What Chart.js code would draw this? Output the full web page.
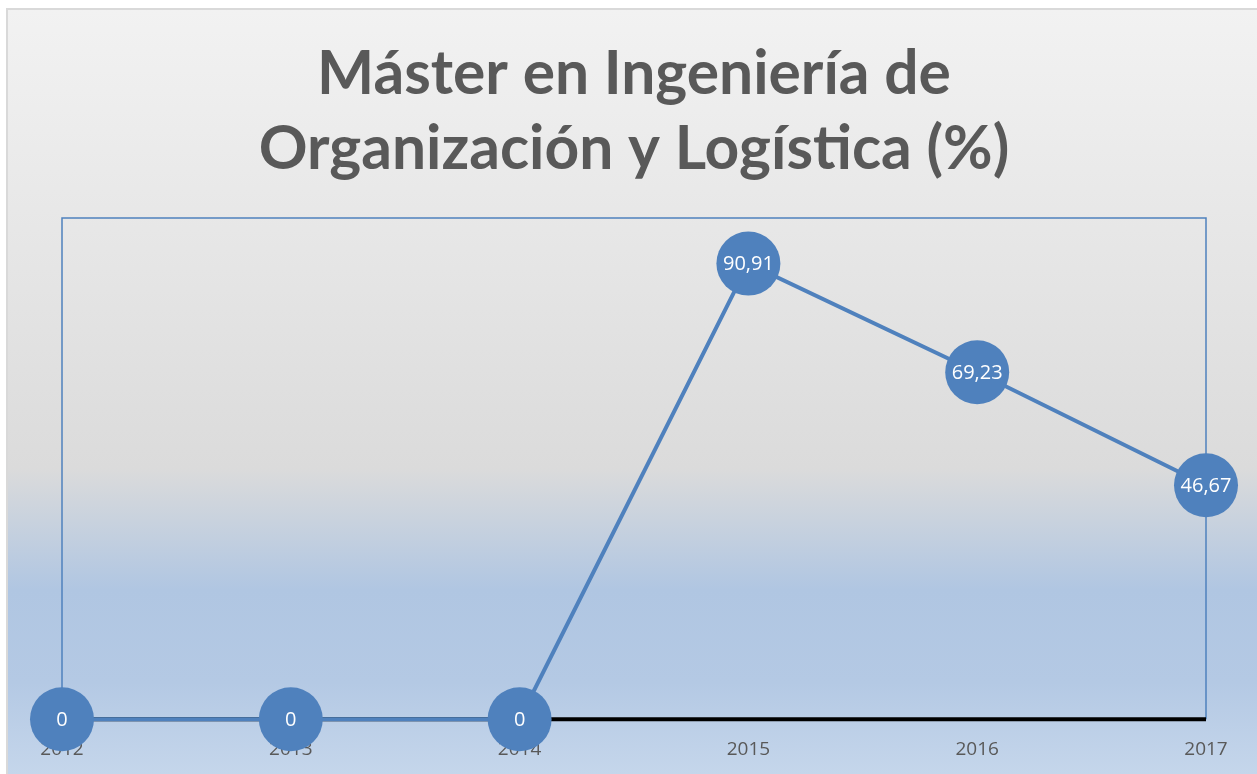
<!DOCTYPE html>
<html>
<head>
<meta charset="utf-8">
<script src="https://cdn.jsdelivr.net/npm/chart.js@4/dist/chart.umd.min.js"></script>
<style>
  html, body { margin: 0; padding: 0; background: #fff; }
  #wrap { width: 1257px; height: 774px; }
</style>
</head>
<body>
<div id="wrap"><canvas id="chart"></canvas></div>
<script>
const years = ['2012', '2013', '2014', '2015', '2016', '2017']
const percentages = [0, 0, 0, 90.91, 69.23, 46.67]
const titleLines = ['Máster en Ingeniería de', 'Organización y Logística (%)']

const blue = '#4f81bd'
const grey = '#595959'

// frame + gradient behind everything, plot border and black axis under the line
const backdrop = {
  id: 'backdrop',
  beforeDraw (chart) {
    const { ctx } = chart
    const top = 9, left = 7
    const g = ctx.createLinearGradient(0, top, 0, chart.height)
    g.addColorStop(0, '#f2f2f2')
    g.addColorStop(0.6, '#dbdbdb')
    g.addColorStop(0.76, '#b0c6e2')
    g.addColorStop(0.88, '#b4c9e4')
    g.addColorStop(1, '#c5d6eb')
    ctx.save()
    ctx.fillStyle = g
    ctx.fillRect(left, top, chart.width - left, chart.height - top)
    ctx.strokeStyle = '#d9d9d9'
    ctx.lineWidth = 2
    ctx.strokeRect(left, top, chart.width, chart.height)
    ctx.restore()
  },
  beforeDatasetsDraw (chart) {
    const { ctx, chartArea: a } = chart
    ctx.save()
    ctx.strokeStyle = blue
    ctx.lineWidth = 1.5
    ctx.beginPath()
    ctx.moveTo(a.left, a.bottom)
    ctx.lineTo(a.left, a.top)
    ctx.lineTo(a.right, a.top)
    ctx.lineTo(a.right, a.bottom)
    ctx.stroke()
    ctx.strokeStyle = '#000'
    ctx.lineWidth = 4
    ctx.beginPath()
    ctx.moveTo(a.left, a.bottom)
    ctx.lineTo(a.right, a.bottom)
    ctx.stroke()
    ctx.restore()
  }
}

// value labels inside the markers
const valueLabels = {
  id: 'valueLabels',
  afterDatasetsDraw (chart) {
    const { ctx } = chart
    const meta = chart.getDatasetMeta(0)
    ctx.save()
    ctx.fillStyle = '#fff'
    ctx.font = '20px "Open Sans", sans-serif'
    ctx.textAlign = 'center'
    ctx.textBaseline = 'middle'
    meta.data.forEach((pt, i) => {
      const v = percentages[i]
      ctx.fillText(v.toFixed(v % 1 ? 2 : 0).replace('.', ','), pt.x, pt.y + 1)
    })
    ctx.restore()
  }
}

new Chart(document.getElementById('chart'), {
  type: 'line',
  data: {
    labels: years,
    datasets: [{
      data: percentages,
      borderColor: blue,
      borderWidth: 4,
      backgroundColor: blue,
      pointRadius: 32,
      pointHoverRadius: 32,
      pointBorderWidth: 0,
      tension: 0,
      clip: false
    }]
  },
  options: {
    responsive: true,
    maintainAspectRatio: false,
    animation: false,
    events: [],
    layout: { padding: { left: 62, right: 51, top: 9, bottom: 2 } },
    plugins: {
      legend: { display: false },
      tooltip: { enabled: false },
      title: {
        display: true,
        text: titleLines,
        color: grey,
        font: { family: 'Lato', size: 60.5, weight: 'bold', lineHeight: 1.24 },
        padding: { top: 28, bottom: 31 }
      }
    },
    scales: {
      x: {
        z: 1, // year labels sit on top of the markers
        offset: false,
        grid: { display: false },
        border: { display: false },
        ticks: { color: grey, font: { family: '"Open Sans"', size: 19 }, padding: 11, maxRotation: 0 }
      },
      y: {
        min: 0,
        max: 100,
        display: false
      }
    }
  },
  plugins: [backdrop, valueLabels]
})
</script>
</body>
</html>
